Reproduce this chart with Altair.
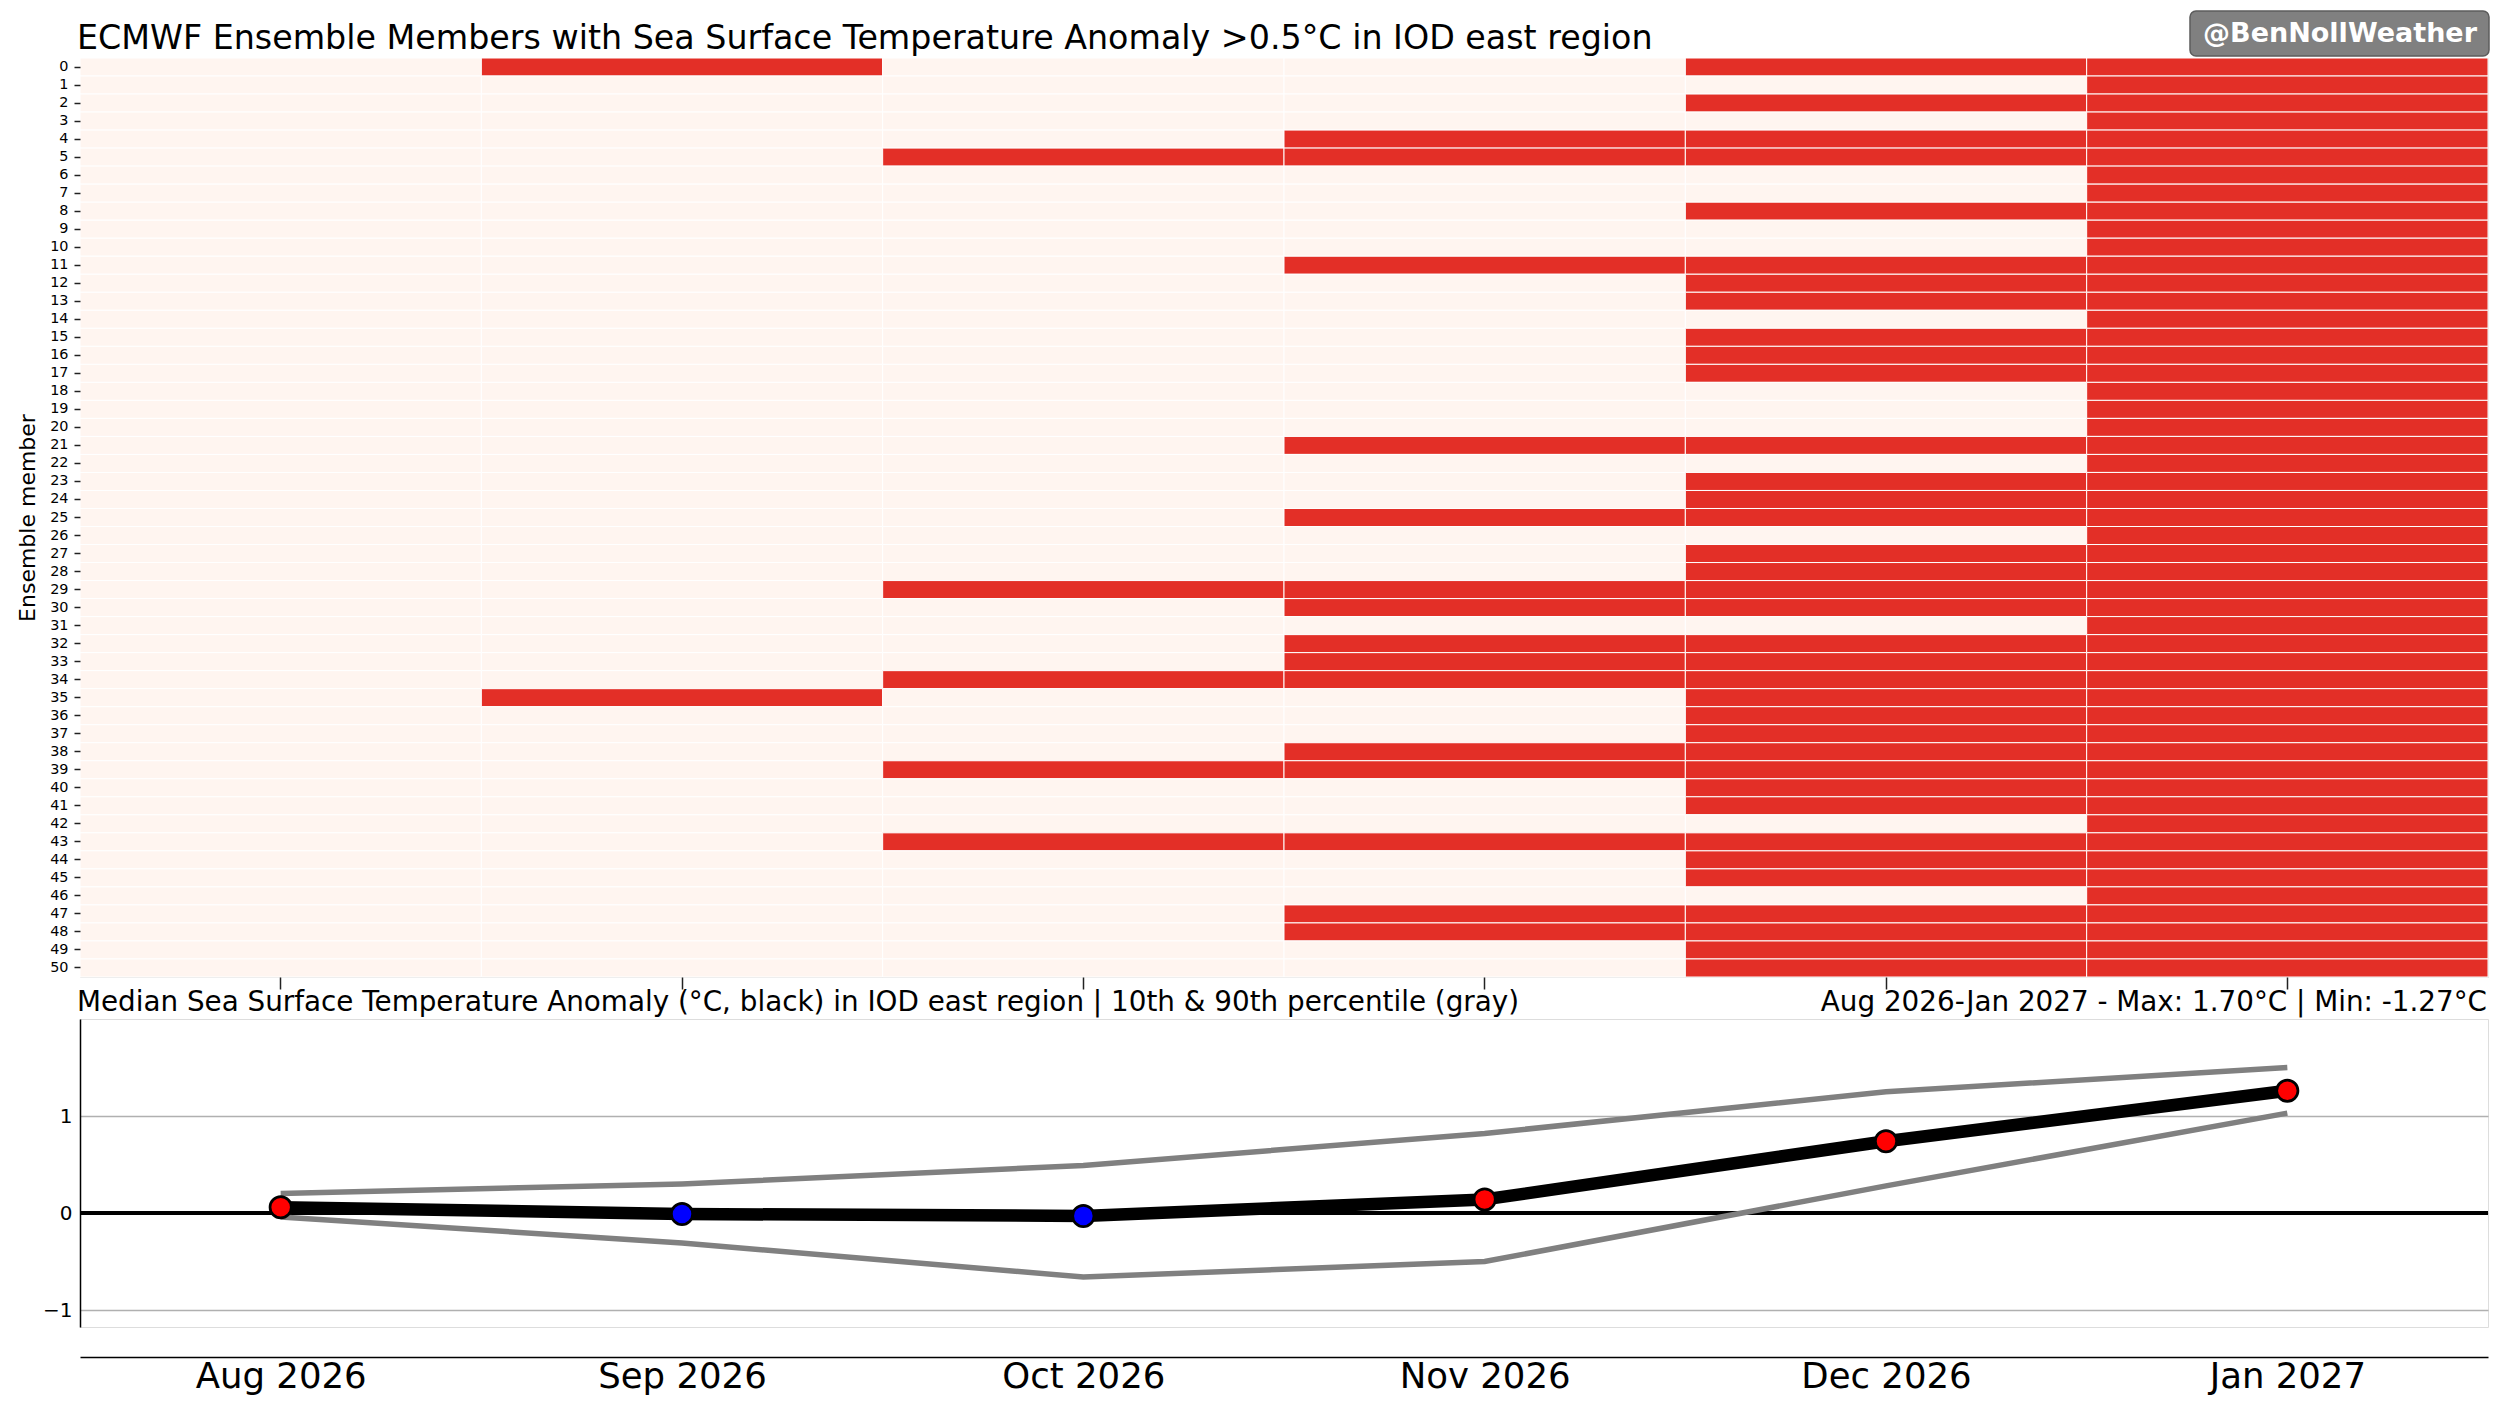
import altair as alt
import pandas as pd

# ---------------- data ----------------
months = ["Aug 2026", "Sep 2026", "Oct 2026", "Nov 2026", "Dec 2026", "Jan 2027"]
members = list(range(51))

# ensemble members with SST anomaly > 0.5°C, per month
exceed_aug = []
exceed_sep = [0, 35]
exceed_oct = [5, 29, 34, 39, 43]
exceed_nov = [4, 5, 11, 21, 25, 29, 30, 32, 33, 34, 38, 39, 43, 47, 48]
exceed_dec = [0, 2, 4, 5, 8, 11, 12, 13, 15, 16, 17, 21, 23, 24, 25, 27, 28, 29,
              30, 32, 33, 34, 35, 36, 37, 38, 39, 40, 41, 43, 44, 45, 47, 48, 49, 50]
exceed_jan = list(range(51))

median = [0.06, -0.01, -0.03, 0.14, 0.74, 1.26]
p90 = [0.20, 0.30, 0.49, 0.82, 1.25, 1.50]
p10 = [-0.04, -0.31, -0.66, -0.50, 0.28, 1.03]

title_text = "ECMWF Ensemble Members with Sea Surface Temperature Anomaly >0.5°C in IOD east region"
badge_text = "@BenNollWeather"
sub_left = "Median Sea Surface Temperature Anomaly (°C, black) in IOD east region | 10th & 90th percentile (gray)"
sub_right = "Aug 2026-Jan 2027 - Max: 1.70°C | Min: -1.27°C"

# ---------------- tables ----------------
exceed_lists = [exceed_aug, exceed_sep, exceed_oct, exceed_nov, exceed_dec, exceed_jan]
heat_rows = []
for m, lst in zip(months, exceed_lists):
    s = set(lst)
    for k in members:
        heat_rows.append({"month": m, "member": k, "exceed": 1 if k in s else 0})
heat_df = pd.DataFrame(heat_rows)

med_df = pd.DataFrame({"month": months, "value": median})
pct_df = pd.concat([
    pd.DataFrame({"month": months, "value": p10, "series": "p10"}),
    pd.DataFrame({"month": months, "value": p90, "series": "p90"}),
])
zero_df = pd.DataFrame({"value": [0.0]})

W = 2408
H1 = 919
H2 = 308
FONT = "DejaVu Sans"

# ---------------- upper panel ----------------
heat = alt.Chart(heat_df).mark_rect(stroke="white", strokeWidth=1).encode(
    x=alt.X("month:N", sort=months,
            scale=alt.Scale(paddingInner=0, paddingOuter=0),
            axis=alt.Axis(title=None, labels=False, ticks=True, tickSize=12,
                          tickWidth=1.5, tickColor="#222222", domain=False)),
    y=alt.Y("member:O", sort="ascending",
            scale=alt.Scale(paddingInner=0, paddingOuter=0),
            axis=alt.Axis(title="Ensemble member", titleFontSize=22,
                          titleFontWeight="normal", titleFont=FONT,
                          titleColor="black", titlePadding=10,
                          labelFontSize=14.4, labelPadding=6, labelFont=FONT,
                          labelColor="black", labelOverlap=False,
                          tickSize=6, tickWidth=1.5, tickColor="#222222",
                          domain=False)),
    color=alt.Color("exceed:N", scale=alt.Scale(domain=[0, 1], range=["#fff5f0", "#e32f27"]),
                    legend=None),
)

title_layer = alt.Chart(pd.DataFrame({"t": [title_text]})).mark_text(
    font=FONT, fontSize=33.3, color="black", align="left", baseline="alphabetic"
).encode(text="t:N", x=alt.value(-3), y=alt.value(-9))

badge_box = alt.Chart(pd.DataFrame({"t": [badge_text]})).mark_rect(
    color="#808080", stroke="#5c5c5c", strokeWidth=1.5, cornerRadius=6
).encode(x=alt.value(2110), x2=alt.value(2409), y=alt.value(-47), y2=alt.value(-2))

badge_label = alt.Chart(pd.DataFrame({"t": [badge_text]})).mark_text(
    font=FONT, fontSize=27, fontWeight="bold", color="white", align="right",
    baseline="alphabetic"
).encode(text="t:N", x=alt.value(2397), y=alt.value(-16))

sub_l = alt.Chart(pd.DataFrame({"t": [sub_left]})).mark_text(
    font=FONT, fontSize=27.8, color="black", align="left", baseline="alphabetic"
).encode(text="t:N", x=alt.value(-3), y=alt.value(H1 + 34))

sub_r = alt.Chart(pd.DataFrame({"t": [sub_right]})).mark_text(
    font=FONT, fontSize=27.8, color="black", align="right", baseline="alphabetic"
).encode(text="t:N", x=alt.value(W - 1), y=alt.value(H1 + 34))

upper = alt.layer(heat, title_layer, badge_box, badge_label, sub_l, sub_r).properties(
    width=W, height=H1
)

# ---------------- lower panel ----------------
x_enc = alt.X("month:N", sort=months,
              scale=alt.Scale(type="point", padding=0.5),
              axis=alt.Axis(title=None, labelAngle=0, labelFontSize=35.5, labelFont=FONT,
                            labelColor="black", labelPadding=2, ticks=False,
                            domainColor="black", domainWidth=1.7, offset=30, grid=False))
y_scale = alt.Scale(domain=[-1.175, 2.0], nice=False, zero=False)
y_axis = alt.Axis(title=None, values=[-1, 0, 1], format="d", labelFontSize=20,
                  labelFont=FONT, labelColor="black", labelPadding=8, ticks=False,
                  grid=True, gridColor="#b0b0b0", gridWidth=1.3,
                  domainColor="black", domainWidth=1.5)

zero_rule = alt.Chart(zero_df).mark_rule(color="black", strokeWidth=4).encode(
    y=alt.Y("value:Q", scale=y_scale, axis=y_axis)
)

pct_lines = alt.Chart(pct_df).mark_line(color="#808080", strokeWidth=5.5, strokeCap="butt").encode(
    x=x_enc,
    y=alt.Y("value:Q", scale=y_scale, axis=y_axis),
    detail="series:N",
)

med_line = alt.Chart(med_df).mark_line(color="black", strokeWidth=12.5, strokeJoin="round").encode(
    x=x_enc,
    y=alt.Y("value:Q", scale=y_scale, axis=y_axis),
)

med_pts = alt.Chart(med_df).mark_point(filled=True, shape="circle", size=452, opacity=1).encode(
    x=x_enc,
    y=alt.Y("value:Q", scale=y_scale, axis=y_axis),
    fill=alt.condition(alt.datum.value > 0, alt.value("#ff0000"), alt.value("#0000ff")),
    stroke=alt.value("black"),
    strokeWidth=alt.value(2.7),
)

lower = alt.layer(zero_rule, pct_lines, med_line, med_pts).properties(width=W, height=H2)

chart = alt.vconcat(upper, lower, spacing=0).properties(
    padding={"left": 8, "top": 1, "right": 0, "bottom": 0},
    background="white",
).configure_view(stroke=None).configure(font=FONT)

chart.save("out.html", embed_options={"renderer": "svg", "actions": False})
